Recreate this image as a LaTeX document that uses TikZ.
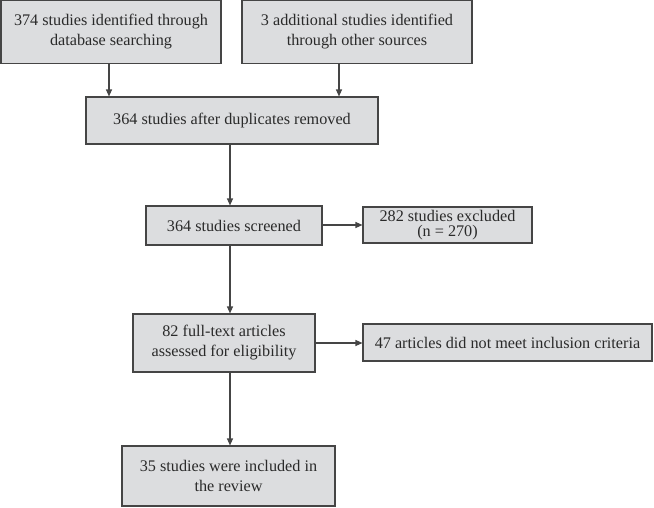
\documentclass[tikz,border=0pt]{standalone}
\usepackage{fontspec}
\setmainfont{Liberation Serif}
\newfontfamily\tnr{Liberation Serif}
\usetikzlibrary{arrows.meta}
\definecolor{boxfill}{HTML}{DCDDDF}
\definecolor{boxline}{HTML}{454545}
\definecolor{txt}{HTML}{2A2A2A}
\begin{document}
\begin{tikzpicture}[x=1pt,y=-1pt,
  box/.style={draw=boxline,line width=1.1pt,fill=boxfill,rectangle,inner sep=0pt,
    align=center,text=txt,font=\tnr\fontsize{16.2}{20}\selectfont},
  arr/.style={draw=boxline,line width=1.1pt,-{Triangle[length=7pt,width=6pt]}}]
\useasboundingbox (0,0) rectangle (654,507);
\node[box,minimum width=220pt,minimum height=63pt] (b1) at (111,32) {374 studies identified through\\database searching};
\node[box,minimum width=230pt,minimum height=63pt] (b2) at (357,32) {3 additional studies identified\\through other sources};
\node[box,minimum width=292pt,minimum height=47pt] (b3) at (232,120.5) {364 studies after duplicates removed};
\node[box,minimum width=176pt,minimum height=39pt] (b4) at (234,225.5) {364 studies screened};
\node[box,minimum width=169pt,minimum height=36pt,font=\tnr\fontsize{16.2}{15}\selectfont] (b5) at (447.5,225) {282 studies excluded\\(n = 270)};
\node[box,minimum width=182pt,minimum height=58pt] (b6) at (224,343) {82 full-text articles\\assessed for eligibility};
\node[box,minimum width=289pt,minimum height=37pt] (b7) at (507.5,342.5) {47 articles did not meet inclusion criteria};
\node[box,minimum width=213pt,minimum height=60pt] (b8) at (228.5,476) {35 studies were included in\\the review};
\draw[arr] (b1.south -| 109,0) -- (b3.north -| 109,0);
\draw[arr] (b2.south -| 339,0) -- (b3.north -| 339,0);
\draw[arr] (b3.south -| 230,0) -- (b4.north -| 230,0);
\draw[arr] (b4.east |- 0,225) -- (b5.west |- 0,225);
\draw[arr] (b4.south -| 230,0) -- (b6.north -| 230,0);
\draw[arr] (b6.east |- 0,343) -- (b7.west |- 0,343);
\draw[arr] (b6.south -| 230,0) -- (b8.north -| 230,0);
\end{tikzpicture}
\end{document}
